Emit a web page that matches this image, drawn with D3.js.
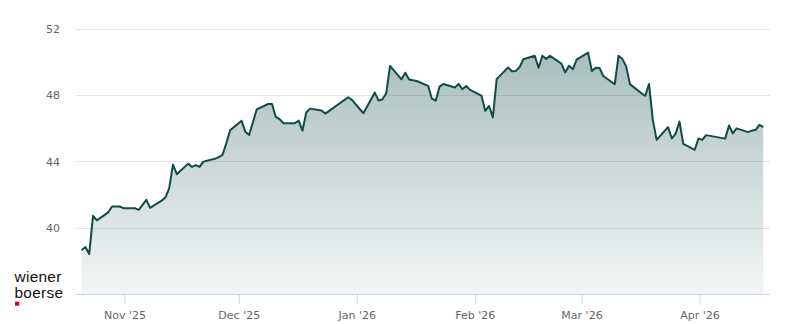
<!DOCTYPE html>
<html>
<head>
<meta charset="utf-8">
<script src="https://cdn.jsdelivr.net/npm/d3@7"></script>
<style>
  html, body { margin: 0; padding: 0; background: #ffffff; }
  svg { display: block; }
</style>
</head>
<body>
<svg id="chart" width="800" height="324"></svg>
<script>
// ---- data (trading-day closes) ----
const dates = [
"2025-10-20","2025-10-21","2025-10-22","2025-10-23","2025-10-24","2025-10-27","2025-10-28","2025-10-29","2025-10-30","2025-10-31",
"2025-11-03","2025-11-04","2025-11-05","2025-11-06","2025-11-07","2025-11-10","2025-11-11","2025-11-12","2025-11-13","2025-11-14",
"2025-11-17","2025-11-18","2025-11-19","2025-11-20","2025-11-21","2025-11-24","2025-11-25","2025-11-26","2025-11-27","2025-11-28",
"2025-12-01","2025-12-02","2025-12-03","2025-12-04","2025-12-05","2025-12-08","2025-12-09","2025-12-10","2025-12-11","2025-12-12",
"2025-12-15","2025-12-16","2025-12-17","2025-12-18","2025-12-19","2025-12-22","2025-12-23","2025-12-29","2025-12-30",
"2026-01-02","2026-01-05","2026-01-06","2026-01-07","2026-01-08","2026-01-09","2026-01-12","2026-01-13","2026-01-14","2026-01-15",
"2026-01-16","2026-01-19","2026-01-20","2026-01-21","2026-01-22","2026-01-23","2026-01-26","2026-01-27","2026-01-28","2026-01-29","2026-01-30",
"2026-02-02","2026-02-03","2026-02-04","2026-02-05","2026-02-06","2026-02-09","2026-02-10","2026-02-11","2026-02-12","2026-02-13",
"2026-02-16","2026-02-17","2026-02-18","2026-02-19","2026-02-20","2026-02-23","2026-02-24","2026-02-25","2026-02-26","2026-02-27",
"2026-03-02","2026-03-03","2026-03-04","2026-03-05","2026-03-06","2026-03-09","2026-03-10","2026-03-11","2026-03-12","2026-03-13",
"2026-03-16","2026-03-17","2026-03-18","2026-03-19","2026-03-20","2026-03-23","2026-03-24","2026-03-25","2026-03-26","2026-03-27",
"2026-03-30","2026-03-31","2026-04-01","2026-04-02","2026-04-07","2026-04-08","2026-04-09","2026-04-10",
"2026-04-13","2026-04-14","2026-04-15","2026-04-16","2026-04-17"
];
const prices = [
38.66,38.85,38.43,40.74,40.46,40.95,41.30,41.30,41.30,41.20,
41.20,41.10,41.40,41.70,41.22,41.65,41.84,42.40,43.83,43.25,
43.89,43.69,43.80,43.69,44.01,44.18,44.28,44.42,45.12,45.90,
46.48,45.82,45.62,46.40,47.17,47.49,47.49,46.71,46.58,46.33,
46.33,46.49,45.88,46.98,47.21,47.10,46.91,47.90,47.74,
46.93,48.18,47.69,47.78,48.14,49.79,48.98,49.38,48.97,48.92,
48.88,48.58,47.81,47.69,48.54,48.70,48.49,48.70,48.38,48.58,48.34,
47.99,47.08,47.37,46.68,48.99,49.70,49.47,49.48,49.71,50.19,
50.40,49.68,50.40,50.20,50.40,49.93,49.39,49.80,49.59,50.17,
50.59,49.48,49.68,49.67,49.18,48.68,50.40,50.21,49.76,48.69,
48.14,47.99,48.70,46.53,45.32,46.09,45.41,45.70,46.43,45.08,
44.72,45.41,45.32,45.61,45.40,46.19,45.72,46.02,
45.79,45.88,45.93,46.23,46.09
];
const yTicks = [40, 44, 48, 52];
const xTickDates = ["2025-11-01","2025-12-01","2026-01-01","2026-02-01","2026-03-01","2026-04-01"];
const xTickLabels = ["Nov '25","Dec '25","Jan '26","Feb '26","Mar '26","Apr '26"];
const logoLines = ["wiener", "boerse"];

// ---- setup ----
const svg = d3.select("#chart");
const parseDay = d3.timeParse("%Y-%m-%d %H:%M");
const closeTime = s => parseDay(s + " 17:30");
const data = dates.map((d, i) => ({ t: closeTime(d), v: prices[i] }));

const plotLeft = 75, plotRight = 770, plotBottom = 294.3, topY = 29.3;
const x = d3.scaleTime()
  .domain([parseDay("2025-10-19 00:00"), parseDay("2026-04-19 12:00")])
  .range([plotLeft, plotRight]);
const y = d3.scaleLinear().domain([36, 52]).range([plotBottom, topY]);

const lineColor = "#0f4c46";

// gradient
const defs = svg.append("defs");
const grad = defs.append("linearGradient")
  .attr("id", "areaGrad")
  .attr("gradientUnits", "userSpaceOnUse")
  .attr("x1", 0).attr("x2", 0)
  .attr("y1", y(d3.max(prices))).attr("y2", y(36));
grad.append("stop").attr("offset", 0).attr("stop-color", lineColor).attr("stop-opacity", 0.36);
grad.append("stop").attr("offset", 1).attr("stop-color", lineColor).attr("stop-opacity", 0.05);

// gridlines
svg.append("g").selectAll("line").data(yTicks).join("line")
  .attr("x1", plotLeft).attr("x2", plotRight)
  .attr("y1", d => Math.floor(y(d)) + 0.5).attr("y2", d => Math.floor(y(d)) + 0.5)
  .attr("stroke", "#e6e6e6").attr("stroke-width", 1);

// y labels
svg.append("g").selectAll("text").data(yTicks).join("text")
  .attr("x", 60).attr("y", d => y(d))
  .attr("dy", "0.35em")
  .attr("text-anchor", "end")
  .attr("font-family", "DejaVu Sans, sans-serif")
  .attr("font-size", 11)
  .attr("fill", "#666666")
  .text(d => d);

// area
const area = d3.area().x(d => x(d.t)).y0(y(36)).y1(d => y(d.v));
svg.append("path").datum(data)
  .attr("d", area)
  .attr("fill", "url(#areaGrad)");

// x axis
const xAxisG = svg.append("g").attr("transform", `translate(0,${Math.floor(plotBottom) + 0.5})`);
xAxisG.append("line").attr("x1", plotLeft).attr("x2", plotRight)
  .attr("stroke", "#ccd6eb").attr("stroke-width", 1);
const xAxis = d3.axisBottom(x)
  .tickValues(xTickDates.map(s => parseDay(s + " 00:00")))
  .tickFormat((d, i) => xTickLabels[i])
  .tickSizeInner(10).tickSizeOuter(0).tickPadding(7);
const ax = xAxisG.append("g").call(xAxis);
ax.select(".domain").remove();
ax.selectAll(".tick line").attr("stroke", "#ccd6eb");
ax.selectAll(".tick text")
  .attr("font-family", "DejaVu Sans, sans-serif")
  .attr("font-size", 11)
  .attr("fill", "#666666");

// line
const line = d3.line().x(d => x(d.t)).y(d => y(d.v));
svg.append("path").datum(data)
  .attr("d", line)
  .attr("fill", "none")
  .attr("stroke", lineColor)
  .attr("stroke-width", 2)
  .attr("stroke-linejoin", "round");

// logo
const logo = svg.append("g");
logo.selectAll("text").data(logoLines).join("text")
  .attr("x", 14.5).attr("y", (d, i) => 282.3 + i * 15.4)
  .attr("font-family", "Liberation Sans, Arial, sans-serif")
  .attr("font-size", 15.4)
  .attr("letter-spacing", 0.3)
  .attr("fill", "#111111")
  .text(d => d);
logo.append("rect").attr("x", 15).attr("y", 301.7).attr("width", 4.3).attr("height", 4)
  .attr("fill", "#d4001a");
</script>
</body>
</html>
